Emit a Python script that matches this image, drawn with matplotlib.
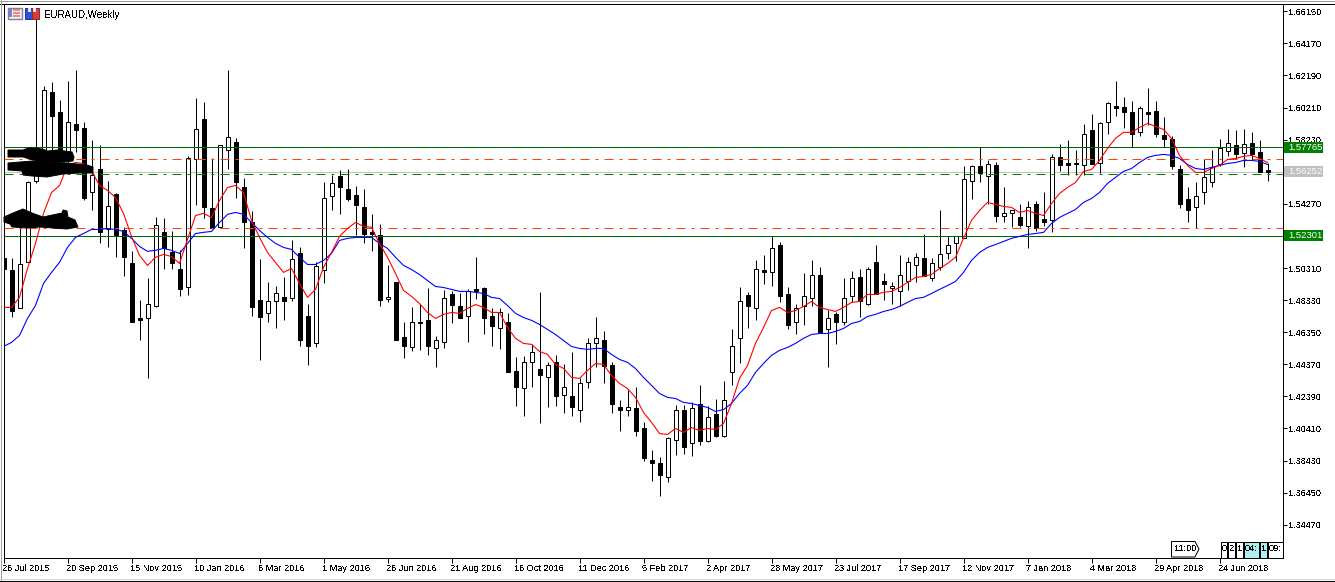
import numpy as np
import matplotlib
matplotlib.use("Agg")
import matplotlib.pyplot as plt
from matplotlib.patches import Rectangle, Polygon
from matplotlib.transforms import Affine2D, ScaledTranslation

OUTPUT_PLOT = "out.png"
SYMBOL = "EURAUD,Weekly"

# Weekly candles, oldest first
opens = [
    1.5091, 1.5016, 1.4782, 1.5066, 1.5565, 1.5621, 1.6114, 1.5991, 1.5744, 1.5917,
    1.5892, 1.5503, 1.5639, 1.5269, 1.5485, 1.5263, 1.5059, 1.4720, 1.4720, 1.4794,
    1.5251, 1.5127, 1.5022, 1.4911, 1.5701, 1.5948, 1.5399, 1.5282, 1.5757, 1.5806,
    1.5528, 1.5318, 1.4831, 1.4751, 1.4825, 1.4850, 1.4843, 1.5121, 1.4732, 1.4566,
    1.5016, 1.5473, 1.5596, 1.5516, 1.5479, 1.5405, 1.5251, 1.5232, 1.4837, 1.4942,
    1.4603, 1.4541, 1.4701, 1.4708, 1.4535, 1.4572, 1.4868, 1.4794, 1.4738, 1.4899,
    1.4905, 1.4738, 1.4664, 1.4695, 1.4393, 1.4288, 1.4449, 1.4405, 1.4356, 1.4449,
    1.4245, 1.4239, 1.4158, 1.4325, 1.4566, 1.4584, 1.4430, 1.4171, 1.4152, 1.4165,
    1.4047, 1.3844, 1.3825, 1.3739, 1.3973, 1.4158, 1.3949, 1.4189, 1.3961, 1.4128,
    1.3992, 1.4387, 1.4597, 1.4862, 1.4782, 1.5016, 1.5004, 1.5176, 1.4868, 1.4695,
    1.4794, 1.4843, 1.4985, 1.4652, 1.4745, 1.4701, 1.4856, 1.4973, 1.4812, 1.5066,
    1.4948, 1.4905, 1.4887, 1.4954, 1.5047, 1.5091, 1.4967, 1.5035, 1.5121, 1.5183,
    1.5214, 1.5565, 1.5658, 1.5596, 1.5664, 1.5349, 1.5368, 1.5343, 1.5288, 1.5423,
    1.5331, 1.5325, 1.5714, 1.5676, 1.5682, 1.5664, 1.5880, 1.5676, 1.5930, 1.6028,
    1.6022, 1.5991, 1.5868, 1.5991, 1.5997, 1.5849, 1.5824, 1.5639, 1.5454, 1.5405,
    1.5497, 1.5559, 1.5670, 1.5750, 1.5787, 1.5738, 1.5800, 1.5744, 1.5633,
]
highs = [
    1.5109, 1.5091, 1.5355, 1.5571, 1.6571, 1.6151, 1.6176, 1.6065, 1.6188, 1.6250,
    1.5930, 1.5818, 1.5787, 1.5571, 1.5491, 1.5282, 1.5134, 1.4831, 1.4967, 1.5343,
    1.5337, 1.5257, 1.5140, 1.5720, 1.6078, 1.6053, 1.5708, 1.5787, 1.6250, 1.5831,
    1.5584, 1.5380, 1.5084, 1.4942, 1.4923, 1.4973, 1.5201, 1.5158, 1.4806, 1.5066,
    1.5559, 1.5608, 1.5633, 1.5645, 1.5540, 1.5516, 1.5367, 1.5300, 1.5047, 1.4942,
    1.4695, 1.4788, 1.4812, 1.4905, 1.4609, 1.4893, 1.4887, 1.4874, 1.4899, 1.5097,
    1.4911, 1.4782, 1.4782, 1.4751, 1.4479, 1.4486, 1.4560, 1.4881, 1.4449, 1.4492,
    1.4436, 1.4511, 1.4350, 1.4597, 1.4726, 1.4640, 1.4449, 1.4214, 1.4276, 1.4294,
    1.4079, 1.3906, 1.3862, 1.3986, 1.4183, 1.4183, 1.4202, 1.4312, 1.4177, 1.4220,
    1.4337, 1.4652, 1.4911, 1.4881, 1.5078, 1.5109, 1.5226, 1.5189, 1.4911, 1.4812,
    1.4998, 1.5078, 1.5035, 1.4769, 1.4757, 1.4967, 1.5010, 1.5022, 1.5035, 1.5176,
    1.4998, 1.4942, 1.5109, 1.5097, 1.5121, 1.5244, 1.5091, 1.5392, 1.5226, 1.5226,
    1.5658, 1.5664, 1.5775, 1.5695, 1.5683, 1.5528, 1.5386, 1.5429, 1.5442, 1.5442,
    1.5497, 1.5732, 1.5794, 1.5818, 1.5757, 1.5917, 1.5979, 1.5930, 1.6053, 1.6188,
    1.6084, 1.6059, 1.6028, 1.6139, 1.6059, 1.5960, 1.5843, 1.5664, 1.5528, 1.5559,
    1.5701, 1.5757, 1.5824, 1.5886, 1.5880, 1.5886, 1.5868, 1.5818, 1.5676,
]
lows = [
    1.5004, 1.4726, 1.4782, 1.5066, 1.5553, 1.5602, 1.5757, 1.5664, 1.5664, 1.5744,
    1.5448, 1.5392, 1.5183, 1.5158, 1.5097, 1.4979, 1.4695, 1.4584, 1.4350, 1.4788,
    1.5028, 1.5022, 1.4856, 1.4862, 1.5417, 1.5337, 1.5275, 1.5275, 1.5639, 1.5466,
    1.5152, 1.4732, 1.4461, 1.4695, 1.4658, 1.4708, 1.4825, 1.4553, 1.4430, 1.4541,
    1.4936, 1.5386, 1.5362, 1.5442, 1.5232, 1.5183, 1.5134, 1.4794, 1.4819, 1.4584,
    1.4473, 1.4516, 1.4523, 1.4492, 1.4418, 1.4535, 1.4689, 1.4720, 1.4572, 1.4837,
    1.4627, 1.4553, 1.4529, 1.4387, 1.4177, 1.4121, 1.4294, 1.4072, 1.4171, 1.4177,
    1.4134, 1.4115, 1.4084, 1.4288, 1.4418, 1.4319, 1.4134, 1.4023, 1.4115, 1.3992,
    1.3838, 1.3720, 1.3622, 1.3708, 1.3875, 1.3881, 1.3869, 1.3942, 1.3955, 1.3986,
    1.3986, 1.4312, 1.4442, 1.4664, 1.4708, 1.4930, 1.4923, 1.4819, 1.4652, 1.4621,
    1.4677, 1.4794, 1.4634, 1.4418, 1.4560, 1.4677, 1.4819, 1.4726, 1.4800, 1.4868,
    1.4831, 1.4806, 1.4794, 1.4893, 1.4942, 1.4979, 1.4948, 1.5016, 1.5084, 1.5072,
    1.5214, 1.5454, 1.5559, 1.5423, 1.5318, 1.5318, 1.5282, 1.5282, 1.5152, 1.5257,
    1.5288, 1.5251, 1.5627, 1.5608, 1.5602, 1.5608, 1.5670, 1.5615, 1.5855, 1.5966,
    1.5892, 1.5775, 1.5843, 1.5911, 1.5837, 1.5775, 1.5645, 1.5399, 1.5312, 1.5275,
    1.5423, 1.5534, 1.5658, 1.5720, 1.5701, 1.5652, 1.5695, 1.5621, 1.5571,
]
closes = [
    1.5028, 1.4763, 1.5053, 1.5559, 1.5664, 1.6127, 1.5972, 1.5726, 1.5935, 1.5880,
    1.5466, 1.5608, 1.5251, 1.5411, 1.5232, 1.5097, 1.4695, 1.4708, 1.4812, 1.5294,
    1.5152, 1.5059, 1.4899, 1.5708, 1.5886, 1.5405, 1.5275, 1.5787, 1.5837, 1.5559,
    1.5318, 1.4788, 1.4726, 1.4825, 1.4874, 1.4825, 1.5084, 1.4584, 1.4553, 1.5041,
    1.5466, 1.5553, 1.5528, 1.5454, 1.5417, 1.5244, 1.5238, 1.4831, 1.4850, 1.4584,
    1.4553, 1.4701, 1.4689, 1.4547, 1.4584, 1.4843, 1.4800, 1.4720, 1.4887, 1.4887,
    1.4720, 1.4671, 1.4757, 1.4387, 1.4294, 1.4449, 1.4510, 1.4374, 1.4430, 1.4239,
    1.4300, 1.4171, 1.4319, 1.4566, 1.4597, 1.4424, 1.4189, 1.4158, 1.4171, 1.4023,
    1.3856, 1.3831, 1.3757, 1.3980, 1.4152, 1.3924, 1.4165, 1.3961, 1.4109, 1.3992,
    1.4214, 1.4547, 1.4825, 1.4794, 1.5022, 1.5004, 1.5152, 1.4856, 1.4677, 1.4782,
    1.4856, 1.4985, 1.4634, 1.4720, 1.4701, 1.4843, 1.4967, 1.4825, 1.5022, 1.4868,
    1.4930, 1.4923, 1.4991, 1.5066, 1.5097, 1.4979, 1.5059, 1.5115, 1.5170, 1.5226,
    1.5578, 1.5658, 1.5615, 1.5670, 1.5355, 1.5368, 1.5386, 1.5294, 1.5405, 1.5275,
    1.5312, 1.5714, 1.5664, 1.5664, 1.5670, 1.5855, 1.5670, 1.5923, 1.6047, 1.6016,
    1.5991, 1.5861, 1.6016, 1.5979, 1.5861, 1.5824, 1.5658, 1.5423, 1.5392, 1.5473,
    1.5590, 1.5652, 1.5769, 1.5800, 1.5732, 1.5794, 1.5732, 1.5621, 1.5621,
]

# Fast moving average (red)
ma_fast = [
    1.4788, 1.4788, 1.4850, 1.5028, 1.5183, 1.5368, 1.5497, 1.5540, 1.5664, 1.5682,
    1.5676, 1.5633, 1.5540, 1.5510, 1.5466, 1.5368, 1.5226, 1.5109, 1.5047, 1.5097,
    1.5115, 1.5102, 1.5059, 1.5207, 1.5355, 1.5368, 1.5343, 1.5448, 1.5528, 1.5540,
    1.5497, 1.5325, 1.5220, 1.5127, 1.5066, 1.5004, 1.5028, 1.4936, 1.4850, 1.4899,
    1.5035, 1.5127, 1.5226, 1.5275, 1.5312, 1.5288, 1.5282, 1.5183, 1.5097, 1.4998,
    1.4893, 1.4856, 1.4812, 1.4757, 1.4720, 1.4745, 1.4757, 1.4751, 1.4782, 1.4806,
    1.4788, 1.4757, 1.4757, 1.4664, 1.4597, 1.4566, 1.4560, 1.4516, 1.4498, 1.4436,
    1.4412, 1.4356, 1.4350, 1.4399, 1.4442, 1.4436, 1.4368, 1.4319, 1.4288, 1.4233,
    1.4140, 1.4079, 1.4010, 1.4004, 1.4041, 1.4017, 1.4047, 1.4029, 1.4041, 1.4035,
    1.4072, 1.4195, 1.4350, 1.4430, 1.4566, 1.4664, 1.4769, 1.4788, 1.4757, 1.4769,
    1.4794, 1.4825, 1.4788, 1.4775, 1.4763, 1.4788, 1.4819, 1.4825, 1.4868, 1.4868,
    1.4881, 1.4887, 1.4911, 1.4942, 1.4973, 1.4979, 1.4991, 1.5028, 1.5059, 1.5097,
    1.5214, 1.5325, 1.5386, 1.5436, 1.5423, 1.5411, 1.5405, 1.5374, 1.5386, 1.5368,
    1.5355, 1.5429, 1.5491, 1.5528, 1.5559, 1.5627, 1.5639, 1.5695, 1.5769, 1.5831,
    1.5868, 1.5868, 1.5898, 1.5923, 1.5905, 1.5886, 1.5831, 1.5726, 1.5664, 1.5621,
    1.5621, 1.5645, 1.5664, 1.5701, 1.5707, 1.5720, 1.5726, 1.5707, 1.5682,
]
# Slow moving average (blue)
ma_slow = [
    1.4547, 1.4572, 1.4615, 1.4720, 1.4800, 1.4936, 1.5004, 1.5066, 1.5158, 1.5220,
    1.5244, 1.5269, 1.5269, 1.5275, 1.5269, 1.5257, 1.5214, 1.5164, 1.5134, 1.5140,
    1.5152, 1.5140, 1.5121, 1.5183, 1.5244, 1.5251, 1.5257, 1.5312, 1.5362, 1.5374,
    1.5362, 1.5312, 1.5263, 1.5220, 1.5183, 1.5158, 1.5146, 1.5097, 1.5053, 1.5053,
    1.5078, 1.5121, 1.5201, 1.5214, 1.5220, 1.5220, 1.5220, 1.5183, 1.5152, 1.5097,
    1.5047, 1.5022, 1.4991, 1.4954, 1.4917, 1.4911, 1.4899, 1.4887, 1.4887, 1.4881,
    1.4874, 1.4850, 1.4843, 1.4800, 1.4751, 1.4726, 1.4708, 1.4683, 1.4652, 1.4621,
    1.4584, 1.4547, 1.4535, 1.4529, 1.4535, 1.4535, 1.4498, 1.4467, 1.4449, 1.4411,
    1.4356, 1.4307, 1.4257, 1.4233, 1.4226, 1.4202, 1.4195, 1.4183, 1.4171, 1.4146,
    1.4158, 1.4195, 1.4257, 1.4307, 1.4387, 1.4442, 1.4492, 1.4523, 1.4541, 1.4566,
    1.4597, 1.4621, 1.4627, 1.4627, 1.4640, 1.4658, 1.4689, 1.4701, 1.4732, 1.4745,
    1.4763, 1.4775, 1.4794, 1.4819, 1.4843, 1.4850, 1.4874, 1.4899, 1.4923, 1.4948,
    1.5004, 1.5078, 1.5127, 1.5158, 1.5176, 1.5195, 1.5214, 1.5226, 1.5238, 1.5244,
    1.5251, 1.5306, 1.5343, 1.5368, 1.5392, 1.5436, 1.5460, 1.5497, 1.5553, 1.5590,
    1.5627, 1.5645, 1.5682, 1.5713, 1.5726, 1.5732, 1.5726, 1.5707, 1.5670, 1.5645,
    1.5639, 1.5652, 1.5664, 1.5676, 1.5682, 1.5695, 1.5695, 1.5689, 1.5670,
]

date_labels = [
    "26 Jul 2015", "20 Sep 2015", "15 Nov 2015", "10 Jan 2016", "6 Mar 2016",
    "1 May 2016", "26 Jun 2016", "21 Aug 2016", "16 Oct 2016", "11 Dec 2016",
    "5 Feb 2017", "2 Apr 2017", "28 May 2017", "23 Jul 2017", "17 Sep 2017",
    "12 Nov 2017", "7 Jan 2018", "4 Mar 2018", "29 Apr 2018", "24 Jun 2018",
]
price_ticks = [
    1.66150, 1.64170, 1.62190, 1.60210, 1.58230, 1.54270, 1.50310, 1.48330,
    1.46350, 1.44370, 1.42390, 1.40410, 1.38430, 1.36450, 1.34470,
]

# Drawn levels
level_high = 1.57765
level_low = 1.52301
level_bid = 1.56252
level_pivot = 1.5610
level_upper = 1.5701
level_lower = 1.5281

# Countdown boxes over the bottom right of the chart
time_boxes = ["0", "2", "1", "04:", "1", "09:"]


def pixel_frame():
    # Image pixel coordinates (origin top left) for the terminal decorations
    return Affine2D().scale(1, -1).translate(0, 582)


def draw_candles(ax):
    o, h, l, c = map(np.array, (opens, highs, lows, closes))
    x = np.arange(len(o))
    up = c >= o
    ax.vlines(x, l, h, color="black", linewidth=0.72, zorder=2)
    ax.bar(x[up], (c - o)[up], bottom=o[up], width=0.5, color="white",
           edgecolor="black", linewidth=0.72, zorder=3)
    ax.bar(x[~up], (o - c)[~up], bottom=c[~up], width=0.5, color="black",
           edgecolor="black", linewidth=0.72, zorder=3)


def draw_levels(ax):
    dash_dot = (0, (6.48, 4.32, 2.16, 4.32))
    ax.axhline(level_high, color="#006400", linewidth=0.72, zorder=4)
    ax.axhline(level_low, color="#006400", linewidth=0.72, zorder=4)
    ax.axhline(level_bid, color="#c0c0c0", linewidth=0.72, zorder=1)
    ax.axhline(level_pivot, color="#008000", linewidth=0.72, linestyle=dash_dot, zorder=4)
    ax.axhline(level_upper, color="#ff4500", linewidth=0.72, linestyle=dash_dot, zorder=4)
    ax.axhline(level_lower, color="#ff4500", linewidth=0.72, linestyle=dash_dot, zorder=4)


def draw_scribbles(fig, px):
    # Filled marker strokes on the left of the chart
    shapes = [
        [(8, 150), (23, 150), (28, 148), (35, 148), (42, 149), (48, 151), (57, 150),
         (72, 152), (74, 157), (73, 161), (63, 162), (43, 162), (33, 160), (23, 157), (8, 157)],
        [(8, 163), (20, 162), (33, 161), (43, 162), (67, 163), (87, 165), (93, 167),
         (93, 173), (80, 173), (63, 174), (47, 177), (32, 176), (23, 175), (22, 171), (8, 170)],
        [(4, 217), (13, 213), (23, 209), (32, 213), (43, 217), (62, 213), (63, 210),
         (67, 211), (68, 217), (75, 220), (78, 227), (67, 229), (53, 228), (40, 227),
         (27, 228), (12, 227), (10, 224), (4, 222)],
    ]
    for shape in shapes:
        fig.add_artist(Polygon(shape, closed=True, facecolor="black", edgecolor="black",
                               linewidth=0.7, transform=px, zorder=3))


def draw_icons(fig, px):
    # Window icon
    fig.add_artist(Rectangle((7.5, 7.5), 14, 11, facecolor="#f0f0f8", edgecolor="#808090",
                             linewidth=1, transform=px, zorder=4))
    fig.add_artist(Rectangle((9, 9), 3, 8, facecolor="#6f86d8", linewidth=0,
                             transform=px, zorder=4))
    for top in (9, 12, 15):
        fig.add_artist(Rectangle((13, top), 7, 2, facecolor="#e88a80", linewidth=0,
                                 transform=px, zorder=4))
    # Blue and red save icons
    fig.add_artist(Rectangle((24.5, 8), 7, 11, facecolor="#3050d8", edgecolor="#2030a0",
                             linewidth=0.7, transform=px, zorder=4))
    fig.add_artist(Rectangle((32, 8), 7, 11, facecolor="#d04038", edgecolor="#a02020",
                             linewidth=0.7, transform=px, zorder=4))
    fig.add_artist(Rectangle((27.5, 7.5), 3, 4, facecolor="#e8e8f0", linewidth=0,
                             transform=px, zorder=4))
    fig.add_artist(Rectangle((33, 7.5), 3, 4, facecolor="#e8e8f0", linewidth=0,
                             transform=px, zorder=4))


def draw_terminal_labels(fig, px):
    fig.text(44, 14.5, SYMBOL, transform=px, fontsize=7.0, ha="left", va="center", zorder=5)

    # Price tags on the axis, smoothed so the white digits stay readable
    tags = [(level_high, 147, "#008000", "white"), (level_low, 235, "#008000", "white"),
            (level_bid, 171.5, "#c0c0c0", "white")]
    for value, y, face, ink in tags:
        fig.add_artist(Rectangle((1284, y - 5.5), 39, 11, facecolor=face, linewidth=0,
                                 transform=px, zorder=5))
        fig.text(1288, y, f"{value:.5f}", transform=px, fontsize=6.8, color=ink,
                 ha="left", va="center", zorder=6, antialiased=True)

    # Countdown tag with arrow shaped right side
    fig.add_artist(Polygon([(1171.5, 557), (1171.5, 541.5), (1195, 541.5), (1199, 549), (1195, 557)],
                           closed=True, facecolor="white", edgecolor="black",
                           linewidth=0.72, transform=px, zorder=5))
    fig.text(1174, 548.5, "11:00", transform=px, fontsize=6.6, ha="left", va="center", zorder=6)

    cells = [(1220.5, 6, "white"), (1227.5, 7, "white"), (1235.5, 7, "white"),
             (1243.5, 15, "#aeeeee"), (1259.5, 7, "#aeeeee"), (1267.5, 15, "white")]
    for (left, w, face), label in zip(cells, time_boxes):
        fig.add_artist(Rectangle((left, 541.5), w, 16, facecolor=face, edgecolor="black",
                                 linewidth=0.72, transform=px, zorder=5))
        fig.text(left + 1.5, 548.5, label, transform=px, fontsize=6.6, ha="left",
                 va="center", zorder=6)


def draw_frame(fig, px):
    rules = [([0, 1335], [3.5, 3.5], "black"), ([0, 1335], [0.5, 0.5], "#a0a0a0"),
             ([0.5, 0.5], [0, 582], "#a0a0a0"), ([0, 1335], [580.5, 580.5], "black"),
             ([0, 1335], [578.5, 578.5], "#d0d0d0")]
    for xs, ys, color in rules:
        fig.add_artist(plt.Line2D(xs, ys, color=color, linewidth=0.72, transform=px))


def plot_chart():
    plt.rcParams["font.family"] = ["Liberation Sans", "DejaVu Sans"]
    plt.rcParams["lines.scale_dashes"] = False
    plt.rcParams["text.antialiased"] = False

    fig = plt.figure(figsize=(13.35, 5.82), dpi=100, facecolor="white")
    ax = fig.add_axes([3.5 / 1335, (582 - 557.5) / 582, 1279 / 1335, 553.5 / 582])
    px = pixel_frame()

    x = np.arange(len(closes))
    draw_candles(ax)
    draw_levels(ax)
    ax.plot(x, ma_slow, color="#0000ff", linewidth=0.8, zorder=5)
    ax.plot(x, ma_fast, color="#ff0000", linewidth=0.8, zorder=6)

    ax.set_xlim(0, 159.875)
    ax.set_ylim(1.3245, 1.6660)
    ax.set_xticks(np.arange(len(date_labels)) * 8)
    ax.set_xticklabels(date_labels, fontsize=6.6, ha="left")
    ax.set_yticks(price_ticks)
    ax.set_yticklabels([f"{p:.5f}" for p in price_ticks], fontsize=6.6)
    ax.yaxis.tick_right()
    ax.tick_params(axis="x", length=3.6, width=0.72, pad=1.2)
    ax.tick_params(axis="y", length=2.9, width=0.72, pad=1.2)
    shift = ScaledTranslation(-1 / 100, 0, fig.dpi_scale_trans)
    for label in ax.get_xticklabels():
        label.set_transform(label.get_transform() + shift)
    for spine in ax.spines.values():
        spine.set_linewidth(0.72)

    draw_frame(fig, px)
    draw_scribbles(fig, px)
    draw_icons(fig, px)
    draw_terminal_labels(fig, px)

    fig.savefig(OUTPUT_PLOT, dpi=100)


if __name__ == "__main__":
    plot_chart()
